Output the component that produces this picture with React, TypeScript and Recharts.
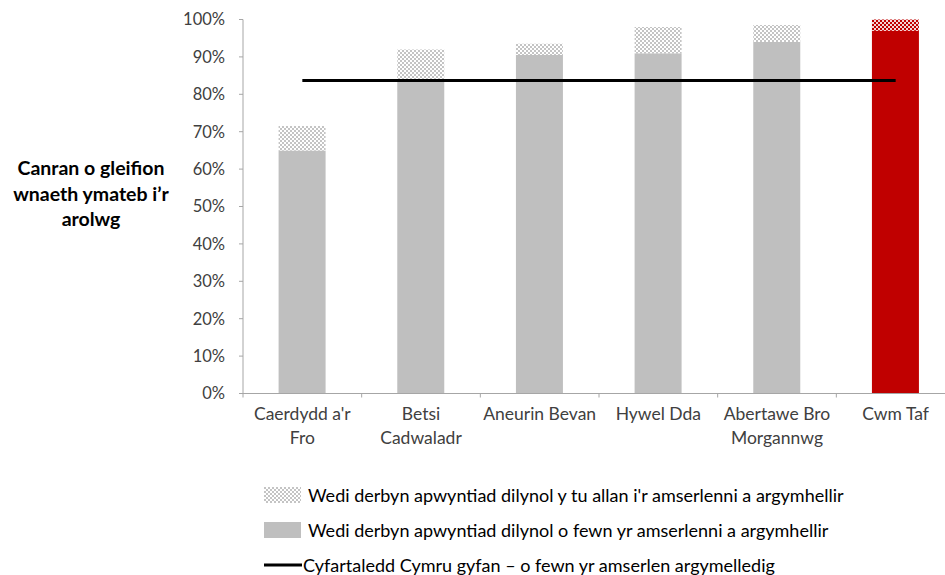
import React from "react";
import { ComposedChart, Bar, Line, XAxis, YAxis, Cell } from "recharts";

const categories = ["Caerdydd a'r Fro", "Betsi Cadwaladr", "Aneurin Bevan", "Hywel Dda", "Abertawe Bro Morgannwg", "Cwm Taf"];
const tickLabels = [["Caerdydd a'r", "Fro"], ["Betsi", "Cadwaladr"], ["Aneurin Bevan"], ["Hywel Dda"], ["Abertawe Bro", "Morgannwg"], ["Cwm Taf"]];
const withinValues = [65, 84, 90.5, 91, 94, 97];
const outsideValues = [6.5, 8, 3, 7, 4.5, 3];
const walesAverage = [83.7, 83.7, 83.7, 83.7, 83.7, 83.7];
const highlighted = [false, false, false, false, false, true];
const yTicks = [0, 10, 20, 30, 40, 50, 60, 70, 80, 90, 100];
const legendLabels = [
  "Wedi derbyn apwyntiad dilynol y tu allan i'r amserlenni a argymhellir",
  "Wedi derbyn apwyntiad dilynol o fewn yr amserlenni a argymhellir",
  "Cyfartaledd Cymru gyfan \u2013 o fewn yr amserlen argymelledig",
];
const yTitle = ["Canran o gleifion", "wnaeth ymateb i\u2019r", "arolwg"];

const data = categories.map((c, i) => ({
  name: c,
  within: withinValues[i],
  outside: outsideValues[i],
  avg: walesAverage[i],
}));

const FONT = "Lato, 'Open Sans', sans-serif";
const TEXT = "#404040";
const AXIS = "#a6a6a6";
const GREY = "#bfbfbf";
const RED = "#c00000";

const XTick = (props: any) => {
  const { x, y, payload, index } = props;
  const half = payload && payload.offset ? payload.offset : 712 / 12;
  const lines = tickLabels[index] || [String(payload.value)];
  return (
    <g>
      <line x1={x - half} y1={y} x2={x - half} y2={y + 4} stroke={AXIS} strokeWidth={1} />
      {index === categories.length - 1 && (
        <line x1={x + half} y1={y} x2={x + half} y2={y + 4} stroke={AXIS} strokeWidth={1} />
      )}
      <text x={x} y={y + 26} textAnchor="middle" fill={TEXT} fontSize={17.5} fontFamily={FONT}>
        {lines.map((l, k) => (
          <tspan key={k} x={x} dy={k === 0 ? 0 : 24}>
            {l}
          </tspan>
        ))}
      </text>
    </g>
  );
};

const Swatch = ({ kind }: { kind: number }) => {
  if (kind === 2) {
    return (
      <svg width={38} height={16} style={{ display: "block" }}>
        <line x1={0} y1={8} x2={38} y2={8} stroke="#000" strokeWidth={3} />
      </svg>
    );
  }
  return (
    <svg width={37} height={16} style={{ display: "block" }}>
      <defs>
        <pattern id={"lg" + kind} width={4} height={4} patternUnits="userSpaceOnUse">
          <rect width={4} height={4} fill="#fff" />
          <rect x={0} y={0} width={2} height={2} fill="#c4c4c4" />
          <rect x={2} y={2} width={2} height={2} fill="#c4c4c4" />
        </pattern>
      </defs>
      <rect x={0} y={0} width={37} height={16} fill={kind === 0 ? "url(#lg0)" : GREY} />
    </svg>
  );
};

export default function App() {
  return (
    <div style={{ position: "absolute", left: 0, top: 0, width: 945, height: 575, overflow: "hidden", background: "#fff" }}>
      <ComposedChart
        width={960}
        height={575}
        data={data}
        margin={{ top: 19.5, right: 5, bottom: 141.5, left: 0 }}
        barCategoryGap="30%"
      >
        <defs>
          <pattern id="patGrey" width={4} height={4} patternUnits="userSpaceOnUse">
            <rect width={4} height={4} fill="#fff" />
            <rect x={0} y={0} width={2} height={2} fill="#c4c4c4" />
            <rect x={2} y={2} width={2} height={2} fill="#c4c4c4" />
          </pattern>
          <pattern id="patRed" width={4} height={4} patternUnits="userSpaceOnUse">
            <rect width={4} height={4} fill="#f3d6d6" />
            <rect x={0} y={0} width={2} height={2} fill={RED} />
            <rect x={2} y={2} width={2} height={2} fill={RED} />
          </pattern>
        </defs>
        <XAxis
          dataKey="name"
          height={40}
          interval={0}
          tickSize={0}
          tickMargin={0}
          tickLine={false}
          axisLine={{ stroke: AXIS }}
          tick={<XTick />}
        />
        <YAxis
          width={243}
          domain={[0, 100]}
          ticks={yTicks}
          interval={0}
          tickSize={4}
          tickMargin={14}
          tickLine={{ stroke: AXIS }}
          axisLine={{ stroke: AXIS }}
          tickFormatter={(v: number) => `${v}%`}
          tick={{ fill: TEXT, fontSize: 16.5, fontFamily: FONT }}
          label={{
            content: () => (
              <text textAnchor="middle" fill="#000" fontSize={19.5} fontWeight={700} fontFamily={FONT}>
                {yTitle.map((l, k) => (
                  <tspan key={k} x={91} y={175 + k * 25.5}>
                    {l}
                  </tspan>
                ))}
              </text>
            ),
          }}
        />
        <Bar dataKey="within" stackId="a" fill={GREY} isAnimationActive={false}>
          {data.map((d, i) => (
            <Cell key={i} fill={highlighted[i] ? RED : GREY} />
          ))}
        </Bar>
        <Bar dataKey="outside" stackId="a" fill="url(#patGrey)" isAnimationActive={false}>
          {data.map((d, i) => (
            <Cell key={i} fill={highlighted[i] ? "url(#patRed)" : "url(#patGrey)"} />
          ))}
        </Bar>
        <Line dataKey="avg" stroke="#000" strokeWidth={3} dot={false} activeDot={false} isAnimationActive={false} />
      </ComposedChart>
      <div style={{ position: "absolute", left: 264, top: 477, fontFamily: FONT, fontSize: 18, color: "#000", lineHeight: "20px" }}>
        {legendLabels.map((l, k) => (
          <div key={k} style={{ display: "flex", alignItems: "center", height: 35, whiteSpace: "nowrap" }}>
            <Swatch kind={k} />
            <span style={{ marginLeft: k === 2 ? 1 : 7 }}>{l}</span>
          </div>
        ))}
      </div>
    </div>
  );
}
